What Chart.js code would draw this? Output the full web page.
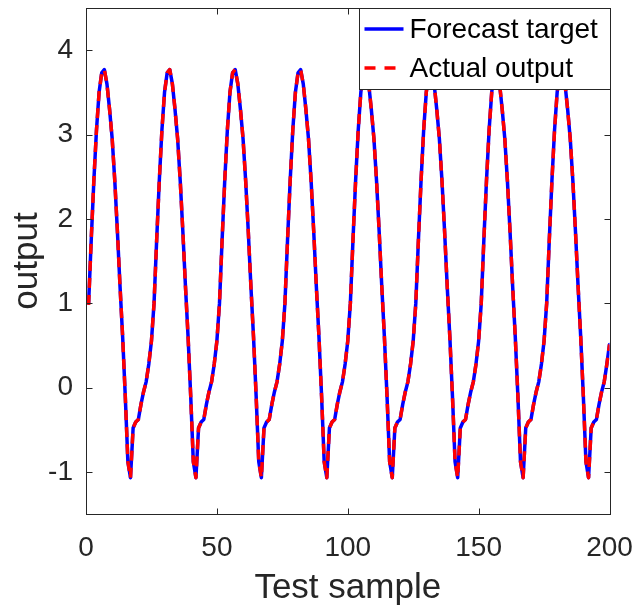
<!DOCTYPE html>
<html><head><meta charset="utf-8">
<script src="https://cdn.jsdelivr.net/npm/chart.js@4.4.0/dist/chart.umd.min.js"></script>
<style>html,body{margin:0;padding:0;background:#fff;}#wrap{width:635px;height:611px;position:relative;}</style>
</head><body><div id="wrap"><canvas id="c" width="635" height="611"></canvas></div>
<script>
const seriesNames = ["Forecast target", "Actual output"];
const xTickValues = [0, 50, 100, 150, 200];
const yTickValues = [-1, 0, 1, 2, 3, 4];
const forecastTarget = [
1.00,1.75,2.45,3.05,3.50,3.73,3.77,3.60,3.30,2.95,2.45,1.85,1.20,0.60,-0.10,-0.88,-1.07,-0.48,-0.41,-0.38,-0.20,-0.05,0.07,0.28,0.55,
1.00,1.75,2.45,3.05,3.50,3.73,3.77,3.60,3.30,2.95,2.45,1.85,1.20,0.60,-0.10,-0.88,-1.07,-0.48,-0.41,-0.38,-0.20,-0.05,0.07,0.28,0.55,
1.00,1.75,2.45,3.05,3.50,3.73,3.77,3.60,3.30,2.95,2.45,1.85,1.20,0.60,-0.10,-0.88,-1.07,-0.48,-0.41,-0.38,-0.20,-0.05,0.07,0.28,0.55,
1.00,1.75,2.45,3.05,3.50,3.73,3.77,3.60,3.30,2.95,2.45,1.85,1.20,0.60,-0.10,-0.88,-1.07,-0.48,-0.41,-0.38,-0.20,-0.05,0.07,0.28,0.55,
1.00,1.75,2.45,3.05,3.50,3.73,3.77,3.60,3.30,2.95,2.45,1.85,1.20,0.60,-0.10,-0.88,-1.07,-0.48,-0.41,-0.38,-0.20,-0.05,0.07,0.28,0.55,
1.00,1.75,2.45,3.05,3.50,3.73,3.77,3.60,3.30,2.95,2.45,1.85,1.20,0.60,-0.10,-0.88,-1.07,-0.48,-0.41,-0.38,-0.20,-0.05,0.07,0.28,0.55,
1.00,1.75,2.45,3.05,3.50,3.73,3.77,3.60,3.30,2.95,2.45,1.85,1.20,0.60,-0.10,-0.88,-1.07,-0.48,-0.41,-0.38,-0.20,-0.05,0.07,0.28,0.55,
1.00,1.75,2.45,3.05,3.50,3.73,3.77,3.60,3.30,2.95,2.45,1.85,1.20,0.60,-0.10,-0.88,-1.07,-0.48,-0.41,-0.38,-0.20,-0.05,0.07,0.28,0.51
];
const actualOutput = [
0.98,1.76,2.46,3.05,3.50,3.73,3.77,3.60,3.30,2.95,2.45,1.85,1.20,0.60,-0.10,-0.88,-1.07,-0.48,-0.41,-0.38,-0.20,-0.05,0.07,0.28,0.55,
1.00,1.75,2.45,3.05,3.50,3.73,3.77,3.60,3.30,2.95,2.45,1.85,1.20,0.60,-0.10,-0.88,-1.07,-0.48,-0.41,-0.38,-0.20,-0.05,0.07,0.28,0.55,
1.00,1.75,2.45,3.05,3.50,3.73,3.77,3.60,3.30,2.95,2.45,1.85,1.20,0.60,-0.10,-0.88,-1.07,-0.48,-0.41,-0.38,-0.20,-0.05,0.07,0.28,0.55,
1.00,1.75,2.45,3.05,3.50,3.73,3.77,3.60,3.30,2.95,2.45,1.85,1.20,0.60,-0.10,-0.88,-1.07,-0.48,-0.41,-0.38,-0.20,-0.05,0.07,0.28,0.55,
1.00,1.75,2.45,3.05,3.50,3.73,3.77,3.60,3.30,2.95,2.45,1.85,1.20,0.60,-0.10,-0.88,-1.07,-0.48,-0.41,-0.38,-0.20,-0.05,0.07,0.28,0.55,
1.00,1.75,2.45,3.05,3.50,3.73,3.77,3.60,3.30,2.95,2.45,1.85,1.20,0.60,-0.10,-0.88,-1.07,-0.48,-0.41,-0.38,-0.20,-0.05,0.07,0.28,0.55,
1.00,1.75,2.45,3.05,3.50,3.73,3.77,3.60,3.30,2.95,2.45,1.85,1.20,0.60,-0.10,-0.88,-1.07,-0.48,-0.41,-0.38,-0.20,-0.05,0.07,0.28,0.55,
1.00,1.75,2.45,3.05,3.50,3.73,3.77,3.60,3.30,2.95,2.45,1.85,1.20,0.60,-0.10,-0.88,-1.07,-0.48,-0.41,-0.38,-0.20,-0.05,0.07,0.28,0.51
];
const toXY = arr => arr.map((v, i) => ({x: i + 1, y: v}));

const FONT = "'Liberation Sans', Arial, sans-serif";
const AXIS_COLOR = '#262626';

const boxPlugin = {
  id: 'boxAndLegend',
  afterDatasetsDraw(chart) {
    const {ctx, chartArea: a, scales} = chart;
    ctx.save();
    ctx.strokeStyle = AXIS_COLOR;
    ctx.lineWidth = 1;
    const L = Math.round(a.left) + 0.5, R = Math.round(a.right) + 0.5;
    const T = Math.round(a.top) + 0.5, B = Math.round(a.bottom) + 0.5;
    ctx.strokeRect(L, T, R - L, B - T);
    const tl = 6;
    ctx.beginPath();
    xTickValues.forEach(v => {
      const px = Math.round(scales.x.getPixelForValue(v)) + 0.5;
      ctx.moveTo(px, B); ctx.lineTo(px, B - tl);
      ctx.moveTo(px, T); ctx.lineTo(px, T + tl);
    });
    yTickValues.forEach(v => {
      const py = Math.round(scales.y.getPixelForValue(v)) + 0.5;
      ctx.moveTo(L, py); ctx.lineTo(L + tl, py);
      ctx.moveTo(R, py); ctx.lineTo(R - tl, py);
    });
    ctx.stroke();

    // legend inside top-right
    const w = 251, h = 81;
    const lx = R - w, ly = T;
    ctx.fillStyle = '#fff';
    ctx.fillRect(lx, ly, w, h);
    ctx.strokeStyle = AXIS_COLOR;
    ctx.strokeRect(lx, ly, w, h);
    const ds = chart.data.datasets;
    const rows = [ly + 20.5, ly + 59.5];
    ds.forEach((d, i) => {
      ctx.beginPath();
      ctx.strokeStyle = d.borderColor;
      ctx.lineWidth = d.borderWidth;
      ctx.setLineDash(d.borderDash ? [11, 9] : []);
      ctx.moveTo(lx + 5, rows[i]); ctx.lineTo(lx + 44, rows[i]);
      ctx.stroke();
      ctx.setLineDash([]);
      ctx.fillStyle = '#000';
      ctx.font = '28px ' + FONT;
      ctx.textBaseline = 'middle';
      ctx.textAlign = 'left';
      ctx.fillText(d.label, lx + 50, rows[i] + 1);
    });
    ctx.restore();
  }
};

new Chart(document.getElementById('c'), {
  type: 'line',
  data: {
    datasets: [
      {label: seriesNames[0], data: toXY(forecastTarget), borderColor: '#0000ff', borderWidth: 3.5, borderJoinStyle: 'round', borderCapStyle: 'round', pointRadius: 0, tension: 0, fill: false, order: 1},
      {label: seriesNames[1], data: toXY(actualOutput), borderColor: '#ff0000', borderWidth: 3.5, borderDash: [10, 7], borderJoinStyle: 'round', borderCapStyle: 'butt', pointRadius: 0, tension: 0, fill: false, order: 0}
    ]
  },
  options: {
    responsive: false,
    animation: false,
    layout: {padding: {left: 0, right: 25.5, top: 8, bottom: 0}},
    plugins: {legend: {display: false}, tooltip: {enabled: false}},
    scales: {
      x: {
        type: 'linear', min: 0, max: 200,
        afterBuildTicks: s => { s.ticks = xTickValues.map(v => ({value: v})); },
        afterFit: s => { s.height = 97; s.paddingLeft = 0; s.paddingRight = 0; },
        grid: {display: false, drawTicks: false},
        border: {display: false},
        ticks: {color: AXIS_COLOR, font: {family: FONT, size: 28}, padding: 17, maxRotation: 0},
        title: {display: true, text: 'Test sample', color: AXIS_COLOR, font: {family: FONT, size: 35}, padding: {top: 0, bottom: 2}}
      },
      y: {
        type: 'linear', min: -1.5, max: 4.5,
        afterBuildTicks: s => { s.ticks = yTickValues.map(v => ({value: v})); },
        afterFit: s => { s.width = 86; s.paddingTop = 0; s.paddingBottom = 0; },
        grid: {display: false, drawTicks: false},
        border: {display: false},
        ticks: {color: AXIS_COLOR, font: {family: FONT, size: 28}, padding: 13},
        title: {display: true, text: 'output', color: AXIS_COLOR, font: {family: FONT, size: 35}, padding: {top: 6, bottom: 0}}
      }
    }
  },
  plugins: [boxPlugin]
});
</script></body></html>
